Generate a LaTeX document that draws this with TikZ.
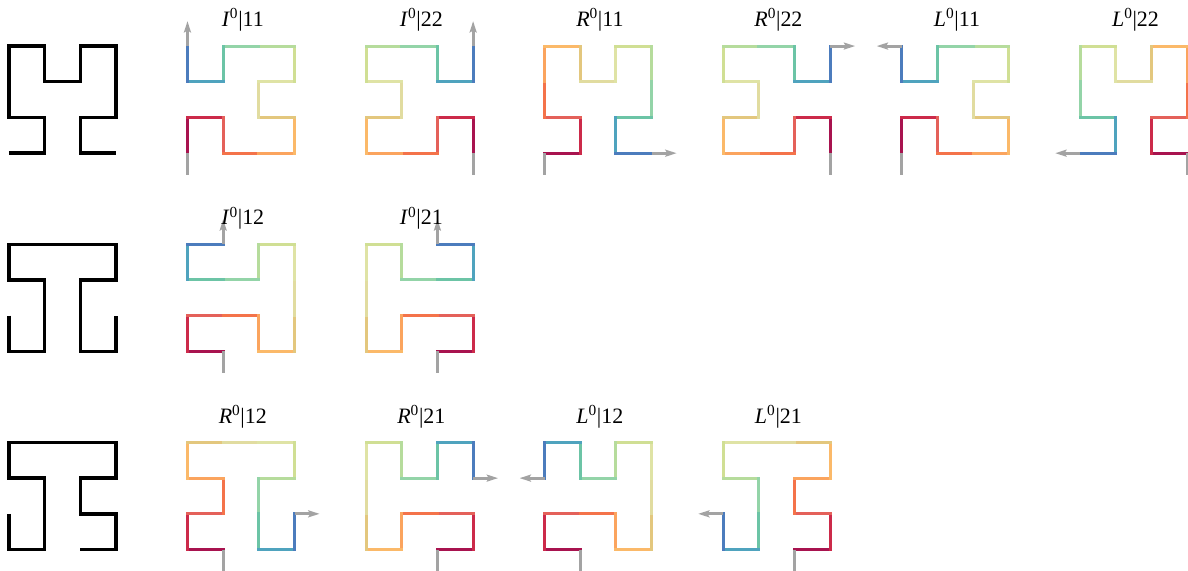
\documentclass[tikz,border=0pt]{standalone}
\usepackage{fontspec}
\setmainfont{Liberation Serif}
\usetikzlibrary{arrows.meta}

\definecolor{hc1}{HTML}{A8134F}
\definecolor{hc2}{HTML}{CC2A4A}
\definecolor{hc3}{HTML}{E4615A}
\definecolor{hc4}{HTML}{F4734A}
\definecolor{hc5}{HTML}{FBA45E}
\definecolor{hc6}{HTML}{FBB969}
\definecolor{hc7}{HTML}{E3C77E}
\definecolor{hc8}{HTML}{E1DCA0}
\definecolor{hc9}{HTML}{DFE3A5}
\definecolor{hc10}{HTML}{D0DF94}
\definecolor{hc11}{HTML}{B6DC9C}
\definecolor{hc12}{HTML}{93D4A8}
\definecolor{hc13}{HTML}{6CC4A6}
\definecolor{hc14}{HTML}{4FA3BE}
\definecolor{hc15}{HTML}{4C7CBD}
\definecolor{stubgray}{HTML}{A3A3A3}

\tikzset{
  seg/.style={line width=2.4pt, line cap=rect},
  blackcurve/.style={line width=2.7pt, line join=miter},
  stub/.style={line width=2.4pt, color=stubgray},
  outarrow/.style={stub, -{Stealth[length=9pt, width=5.5pt, inset=1.5pt]}},
  lbl/.style={font=\fontsize{17.5}{20}\selectfont, anchor=base, inner sep=0pt}
}

% #1 = lower left corner, #2 = the 16 grid points, #3 = exit direction
\def\hcurve#1#2#3{%
  \begin{scope}[shift={(#1)}]
    \foreach \x/\y [count=\i from 0] in {#2}{
      \pgfmathtruncatemacro\j{\i-1}
      \coordinate (p\i) at (\x,\y);
      \ifnum\i>0 \draw[seg, hc\i] (p\j) -- (p\i); \fi
    }
    \draw[stub] (p0) -- ++(0,-0.6) coordinate (in);
    \draw[outarrow] (p15) -- ++(#3) coordinate (out);
  \end{scope}
}

\begin{document}
\begin{tikzpicture}
  %%%%% START %%%%%
  \useasboundingbox (-5.25,-11.70) rectangle (28.02,4.29);

  % shapes
  \draw[blackcurve] (-5,0) -- (-4,0) -- (-4,1) -- (-5,1) -- (-5,3) -- (-4,3) -- (-4,2) -- (-3,2) -- (-3,3) -- (-2,3) -- (-2,1) -- (-3,1) -- (-3,0) -- (-2,0);
  \draw[blackcurve] (-5,-4.55) -- (-5,-5.55) -- (-4,-5.55) -- (-4,-3.55) -- (-5,-3.55) -- (-5,-2.55) -- (-2,-2.55) -- (-2,-3.55) -- (-3,-3.55) -- (-3,-5.55) -- (-2,-5.55) -- (-2,-4.55);
  \draw[blackcurve] (-5,-10.1) -- (-5,-11.1) -- (-4,-11.1) -- (-4,-9.1) -- (-5,-9.1) -- (-5,-8.1) -- (-2,-8.1) -- (-2,-9.1) -- (-3,-9.1) -- (-3,-10.1) -- (-2,-10.1) -- (-2,-11.1) -- (-3,-11.1);

  % first row
  \hcurve{0,0}{0/0,0/1,1/1,1/0,2/0,3/0,3/1,2/1,2/2,3/2,3/3,2/3,1/3,1/2,0/2,0/3}{0,0.7}
  \hcurve{5,0}{3/0,3/1,2/1,2/0,1/0,0/0,0/1,1/1,1/2,0/2,0/3,1/3,2/3,2/2,3/2,3/3}{0,0.7}
  \hcurve{10,0}{0/0,1/0,1/1,0/1,0/2,0/3,1/3,1/2,2/2,2/3,3/3,3/2,3/1,2/1,2/0,3/0}{0.7,0}
  \hcurve{15,0}{3/0,3/1,2/1,2/0,1/0,0/0,0/1,1/1,1/2,0/2,0/3,1/3,2/3,2/2,3/2,3/3}{0.7,0}
  \hcurve{20,0}{0/0,0/1,1/1,1/0,2/0,3/0,3/1,2/1,2/2,3/2,3/3,2/3,1/3,1/2,0/2,0/3}{-0.7,0}
  \hcurve{25,0}{3/0,2/0,2/1,3/1,3/2,3/3,2/3,2/2,1/2,1/3,0/3,0/2,0/1,1/1,1/0,0/0}{-0.7,0}
  \node[lbl] (I11) at (1.55,3.54) {\textit{I}\textsuperscript{0}|11};
  \node[lbl] (I22) at (6.55,3.54) {\textit{I}\textsuperscript{0}|22};
  \node[lbl] (R11) at (11.55,3.54) {\textit{R}\textsuperscript{0}|11};
  \node[lbl] (R22) at (16.55,3.54) {\textit{R}\textsuperscript{0}|22};
  \node[lbl] (L11) at (21.55,3.54) {\textit{L}\textsuperscript{0}|11};
  \node[lbl] (L22) at (26.55,3.54) {\textit{L}\textsuperscript{0}|22};

  % second row
  \hcurve{0,-5.55}{1/0,0/0,0/1,1/1,2/1,2/0,3/0,3/1,3/2,3/3,2/3,2/2,1/2,0/2,0/3,1/3}{0,0.7}
  \hcurve{5,-5.55}{2/0,3/0,3/1,2/1,1/1,1/0,0/0,0/1,0/2,0/3,1/3,1/2,2/2,3/2,3/3,2/3}{0,0.7}
  \node[lbl] (I12) at (1.55,-2.01) {\textit{I}\textsuperscript{0}|12};
  \node[lbl] (I21) at (6.55,-2.01) {\textit{I}\textsuperscript{0}|21};

  % third row
  \hcurve{0,-11.1}{1/0,0/0,0/1,1/1,1/2,0/2,0/3,1/3,2/3,3/3,3/2,2/2,2/1,2/0,3/0,3/1}{0.7,0}
  \hcurve{5,-11.1}{2/0,3/0,3/1,2/1,1/1,1/0,0/0,0/1,0/2,0/3,1/3,1/2,2/2,2/3,3/3,3/2}{0.7,0}
  \hcurve{10,-11.1}{1/0,0/0,0/1,1/1,2/1,2/0,3/0,3/1,3/2,3/3,2/3,2/2,1/2,1/3,0/3,0/2}{-0.7,0}
  \hcurve{15,-11.1}{2/0,3/0,3/1,2/1,2/2,3/2,3/3,2/3,1/3,0/3,0/2,1/2,1/1,1/0,0/0,0/1}{-0.7,0}
  \node[lbl] (R12) at (1.55,-7.56) {\textit{R}\textsuperscript{0}|12};
  \node[lbl] (R21) at (6.55,-7.56) {\textit{R}\textsuperscript{0}|21};
  \node[lbl] (L12) at (11.55,-7.56) {\textit{L}\textsuperscript{0}|12};
  \node[lbl] (L21) at (16.55,-7.56) {\textit{L}\textsuperscript{0}|21};

  %%%%% END %%%%%
\end{tikzpicture}
\end{document}
